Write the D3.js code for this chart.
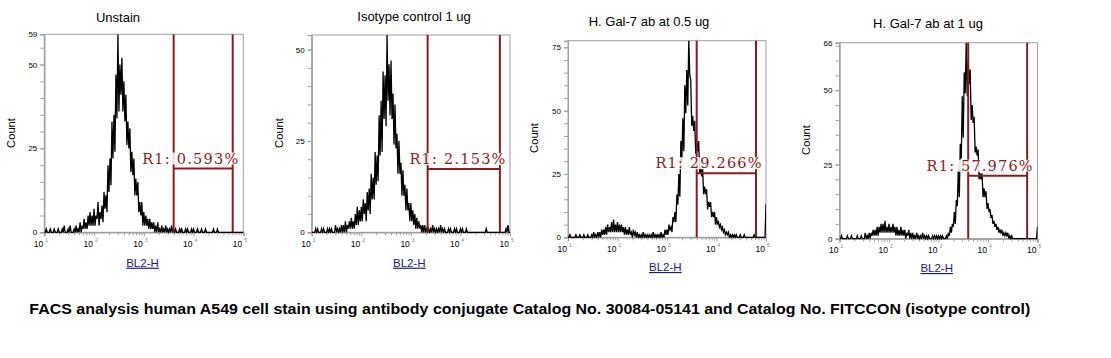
<!DOCTYPE html>
<html><head><meta charset="utf-8">
<script src="https://cdn.jsdelivr.net/npm/d3@7"></script>
<style>body{margin:0;background:#fff;} svg{display:block;}</style>
</head><body><svg id="c" width="1111" height="358"></svg>
<script>
// ---------- DATA ----------
const titles = ["Unstain", "Isotype control 1 ug", "H. Gal-7 ab at 0.5 ug", "H. Gal-7 ab at 1 ug"];
// histogram bins: log10 from 1.00 to 5.00, step 0.04 (101 bins).
// For each bin the noisy histogram is read as a peak (max count) and a trough (min count, half a bin later).
const peakChannels = d3.range(101).map(i => Math.pow(10, 1 + 0.04 * i));
const troughChannels = d3.range(101).map(i => Math.pow(10, 1.02 + 0.04 * i));

const unstainPeaks = [
  0,1,0,1,0,1,0,1,0,1, 2,0,1,2,0,1,2,1,3,2, 4,3,5,6,5,
  7,5,9,6,8,12,11,20,22,33,35,47,59,50,52,45,41,33,31,24,22,16,15,9,9,
  6,5,4,4,3,3,2,3,1,2,1,2,1,1,2,1,1,0,1,1,0,1,1,0,1,
  1,0,1,0,1,0,1,0,0,0, 1,0,1,0,0,0,0,0,0,0, 0,0,0,0,0,0
];
const unstainTroughs = [
  0,0,0,0,0,0,0,0,0,0, 0,0,0,0,0,0,0,0,0,1, 1,1,2,2,2,
  2,4,2,4,3,7,6,12,14,22,24,34,36,41,36,33,26,25,18,17,11,11,6,5,2,
  2,2,1,1,1,0,0,0,0,0,0,0,0,0,0,0,0,0,0,0,0,0,0,0,0,
  0,0,0,0,0,0,0,0,0,0, 0,0,0,0,0,0,0,0,0,0, 0,0,0,0,0,0
];
const isotypePeaks = [
  0,0,1,1,0,1,1,0,1,1, 1,0,2,1,1,2,2,3,2,3, 4,3,5,7,6,
  7,9,8,11,12,16,15,22,21,32,36,44,43,54,46,47,38,35,27,25,19,17,13,12,8,
  8,6,5,4,3,2,2,2,1,1,1,2,1,1,1,2,1,1,0,1,1,0,1,1,0,
  1,1,0,1,0,0,0,0,0,0, 0,0,0,1,0,0,0,0,0,0, 0,0,0,1,2,0
];
const isotypeTroughs = [
  0,0,0,0,0,0,0,0,0,0, 0,0,0,0,0,0,0,0,1,1, 1,1,2,2,3,
  3,5,3,6,5,9,9,13,14,21,22,31,29,36,32,31,24,23,16,16,10,10,6,6,3,
  3,2,1,1,1,0,0,0,0,0,0,0,0,0,0,0,0,0,0,0,0,0,0,0,0,
  0,0,0,0,0,0,0,0,0,0, 0,0,0,0,0,0,0,0,0,0, 0,0,0,0,0,0
];
const gal05Peaks = [
  0,1,0,0,1,0,1,0,1,0, 1,0,1,2,1,2,2,3,3,4, 5,4,6,7,5,
  6,5,5,4,4,3,4,2,3,2,2,1,1,2,1,1,1,1,2,1,1,1,2,1,3,
  3,5,4,8,10,17,25,38,47,60,66,78,62,48,46,38,38,28,27,20,19,14,14,10,10,
  8,6,5,4,3,2,2,1,1,1, 1,0,1,0,1,0,0,0,0,1, 0,0,0,0,0,13
];
const gal05Troughs = [
  0,0,0,0,0,0,0,0,0,0, 0,0,0,0,0,0,0,1,1,1, 2,2,2,2,2,
  2,2,2,1,1,1,1,0,1,0,0,0,0,0,0,0,0,0,0,0,0,0,0,0,1,
  1,3,2,6,6,13,16,30,34,49,52,64,44,42,33,34,25,24,17,17,11,12,8,8,5,
  5,4,3,2,1,1,0,0,0,0, 0,0,0,0,0,0,0,0,0,0, 0,0,0,0,0,0
];
const gal1Peaks = [
  0,1,0,0,1,0,1,0,0,1, 0,1,0,2,1,2,2,3,3,4, 4,5,5,6,4,
  5,4,5,4,4,3,4,3,3,2,3,2,2,1,2,1,1,2,1,1,1,0,1,1,1,
  1,1,1,0,1,2,4,5,9,13,24,32,48,56,66,60,57,45,41,31,30,22,22,17,16,
  12,10,8,6,5,4,3,3,2,2, 2,1,1,0,0,0,0,0,0,0, 0,0,0,0,0,4
];
const gal1Troughs = [
  0,0,0,0,0,0,0,0,0,0, 0,0,0,0,0,0,1,1,1,1, 2,2,2,2,2,
  2,2,2,1,1,1,1,1,0,1,0,0,0,0,0,0,0,0,0,0,0,0,0,0,0,
  0,0,0,0,0,1,2,4,5,11,14,27,34,49,48,52,40,39,29,28,20,20,14,14,10,
  9,7,5,4,3,2,2,1,1,1, 0,0,0,0,0,0,0,0,0,0, 0,0,0,0,0,0
];
const seriesPeaks = [unstainPeaks, isotypePeaks, gal05Peaks, gal1Peaks];
const seriesTroughs = [unstainTroughs, isotypeTroughs, gal05Troughs, gal1Troughs];
const yMaxes = [59, 54, 77.6, 66];
const yMajorTicks = [[0, 25, 50, 59], [25, 50, 0], [0, 25, 50, 75], [0, 25, 50, 66]];
const xMajorExps = [1, 2, 3, 4, 5];
const gateStart = [3980, 2180, 3980, 3980];
const gateEnd = [61200, 62500, 62800, 61700];
const gateLevel = [19, 17.3, 25.3, 21.2];
const gateLabels = ["R1: 0.593%", "R1: 2.153%", "R1: 29.266%", "R1: 57.976%"];
const xAxisLabel = "BL2-H";
const yAxisLabel = "Count";
const caption = "FACS analysis human A549 cell stain using antibody conjugate Catalog No. 30084-05141 and Catalog No. FITCCON (isotype control)";

// ---------- LAYOUT ----------
const frames = [
  {l: 44.3, r: 243.3, t: 34.3, b: 232.3},
  {l: 311.7, r: 510, t: 35, b: 232.3},
  {l: 568, r: 766, t: 40.7, b: 237.3},
  {l: 839.5, r: 1037.5, t: 42.7, b: 238.7}
];
const titlePos = [{x: 118, y: 21.5}, {x: 414, y: 21}, {x: 649, y: 26}, {x: 928, y: 28}];
const countPos = [{x: 15, y: 133}, {x: 283.3, y: 133}, {x: 538, y: 138}, {x: 810, y: 140}];
const blPos = [{x: 142.5, y: 266.7}, {x: 409.3, y: 266.7}, {x: 665.3, y: 271}, {x: 936.7, y: 272}];
const gateColor = "#8c1c1c";
const frameColor = "#a0a0a0";

const svg = d3.select("#c");
const defs = svg.append("defs");

frames.forEach((f, p) => {
  const x = d3.scaleLog().domain([10, 1e5]).range([f.l, f.r]);
  const y = d3.scaleLinear().domain([0, yMaxes[p]]).range([f.b, f.t]);
  const g = svg.append("g");

  defs.append("clipPath").attr("id", "clip" + p)
    .append("rect").attr("x", f.l).attr("y", f.t).attr("width", f.r - f.l).attr("height", f.b - f.t + 1);

  // frame
  g.append("rect").attr("x", f.l).attr("y", f.t).attr("width", f.r - f.l).attr("height", f.b - f.t)
    .attr("fill", "none").attr("stroke", frameColor).attr("stroke-width", 1);

  // y ticks
  const minor = d3.range(0, yMaxes[p] + 0.01, 5);
  const yMinor = g.append("g").attr("transform", `translate(${f.l},0)`)
    .call(d3.axisLeft(y).tickValues(minor).tickSize(4).tickFormat(""));
  const yMajor = g.append("g").attr("transform", `translate(${f.l},0)`)
    .call(d3.axisLeft(y).tickValues(yMajorTicks[p]).tickSize(4).tickPadding(3).tickFormat(d3.format("d")));
  [yMinor, yMajor].forEach(a => {
    a.select(".domain").attr("stroke", frameColor);
    a.selectAll("line").attr("stroke", frameColor);
    a.selectAll("text").attr("font-family", "Liberation Sans, Arial, sans-serif").attr("font-size", "8px").attr("fill", "#000");
  });

  // x ticks
  const xMinorVals = [];
  for (let e = 1; e < 5; e++) for (let k = 2; k <= 9; k++) xMinorVals.push(k * Math.pow(10, e));
  const xMinorAx = g.append("g").attr("transform", `translate(0,${f.b})`)
    .call(d3.axisBottom(x).tickValues(xMinorVals).tickSize(3).tickFormat(""));
  const xMajorAx = g.append("g").attr("transform", `translate(0,${f.b})`)
    .call(d3.axisBottom(x).tickValues(xMajorExps.map(e => Math.pow(10, e))).tickSize(4).tickFormat(""));
  [xMinorAx, xMajorAx].forEach(a => {
    a.select(".domain").attr("stroke", frameColor);
    a.selectAll("line").attr("stroke", frameColor);
  });
  xMajorExps.forEach(e => {
    const px = x(Math.pow(10, e));
    g.append("text").attr("x", px - 1).attr("y", f.b + 14.5).attr("text-anchor", "end")
      .attr("font-family", "Liberation Sans, Arial, sans-serif").attr("font-size", "8.5px").attr("fill", "#000").text("10");
    g.append("text").attr("x", px + 1).attr("y", f.b + 9.5)
      .attr("font-family", "Liberation Sans, Arial, sans-serif").attr("font-size", "5px").attr("fill", "#888").text(String(e));
  });

  // histogram (peak / trough zigzag)
  const pk = seriesPeaks[p], tr = seriesTroughs[p];
  const data = d3.merge(pk.map((c, i) => [{ch: peakChannels[i], c: c}, {ch: troughChannels[i], c: tr[i]}]));
  g.append("path").datum(data).attr("clip-path", `url(#clip${p})`)
    .attr("fill", "none").attr("stroke", "#000").attr("stroke-width", 1.3).attr("stroke-linejoin", "miter")
    .attr("d", d3.line().x(d => x(d.ch)).y(d => y(d.c)));

  // gate
  const gx1 = x(gateStart[p]), gx2 = x(gateEnd[p]), gy = y(gateLevel[p]);
  [gx1, gx2].forEach(gx => g.append("line").attr("x1", gx).attr("x2", gx).attr("y1", f.t).attr("y2", f.b)
    .attr("stroke", gateColor).attr("stroke-width", 2));
  g.append("line").attr("x1", gx1).attr("x2", gx2).attr("y1", gy).attr("y2", gy)
    .attr("stroke", gateColor).attr("stroke-width", 2);
  const labW = gateLabels[p].length > 10 ? 106 : 96;
  g.append("rect").attr("x", gx2 + 5.5 - labW).attr("y", gy - 16).attr("width", labW).attr("height", 12)
    .attr("fill", "#fff").attr("opacity", 0.85);
  g.append("text").attr("x", gx2 + 5.5 - labW).attr("y", gy - 5)
    .attr("font-family", "DejaVu Serif, serif").attr("font-size", "14.5px").attr("fill", gateColor)
    .attr("textLength", labW).attr("lengthAdjust", "spacing").text(gateLabels[p]);

  // labels
  svg.append("text").attr("x", titlePos[p].x).attr("y", titlePos[p].y).attr("text-anchor", "middle")
    .attr("font-family", "Liberation Sans, Arial, sans-serif").attr("font-size", "13px").attr("fill", "#000").text(titles[p]);
  svg.append("text").attr("transform", `translate(${countPos[p].x},${countPos[p].y}) rotate(-90)`).attr("text-anchor", "middle")
    .attr("font-family", "Liberation Sans, Arial, sans-serif").attr("font-size", "11.2px").attr("fill", "#000").text(yAxisLabel);
  svg.append("text").attr("x", blPos[p].x).attr("y", blPos[p].y).attr("text-anchor", "middle")
    .attr("font-family", "Liberation Sans, Arial, sans-serif").attr("font-size", "11.5px").attr("fill", "#1c1c80")
    .attr("text-decoration", "underline").text(xAxisLabel);
});

svg.append("text").attr("x", 29.3).attr("y", 314.3)
  .attr("font-family", "Liberation Sans, Arial, sans-serif").attr("font-weight", "bold").attr("font-size", "14.3px")
  .attr("fill", "#000").attr("textLength", 1001).attr("lengthAdjust", "spacingAndGlyphs").text(caption);
</script></body></html>
